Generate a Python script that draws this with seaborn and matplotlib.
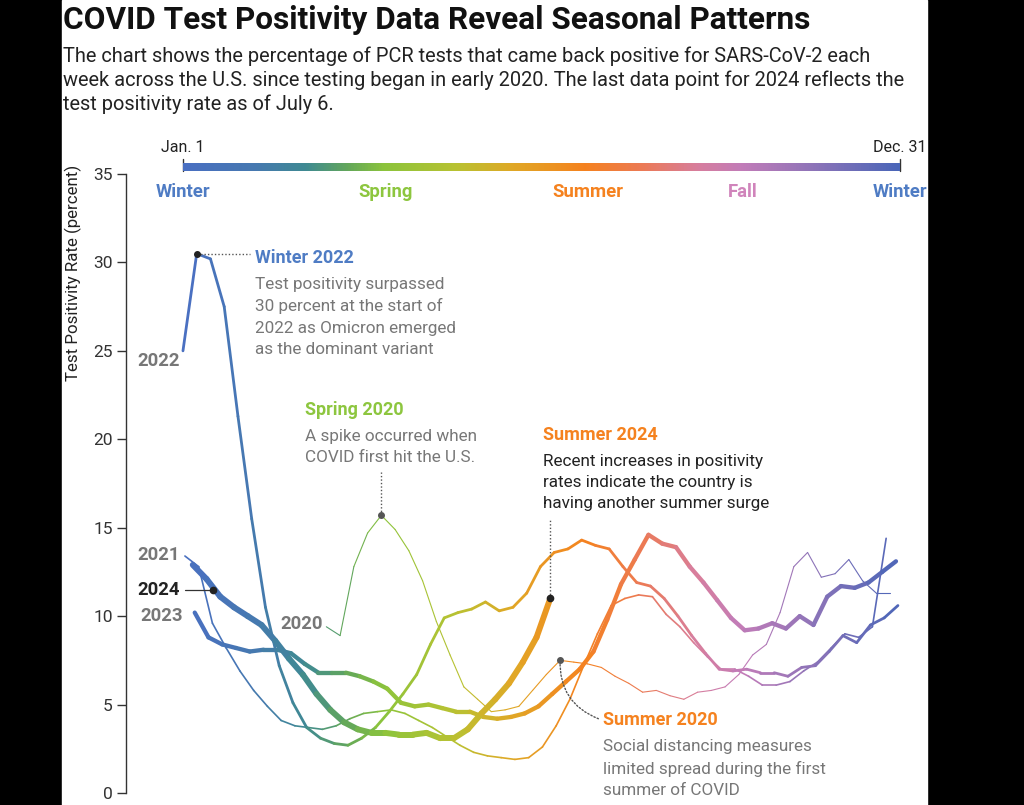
import numpy as np
import pandas as pd
import matplotlib.pyplot as plt
import seaborn as sns
from matplotlib.colors import LinearSegmentedColormap
from matplotlib.patches import Rectangle

# weekly PCR test positivity (percent), one value per week-ending Saturday
start_2020 = '2020-03-14'
pos_2020 = [9.4, 8.9, 12.8, 14.7, 15.7, 14.9, 13.7, 12.0, 9.7, 7.8, 6.0, 5.3, 4.6, 4.7,
            4.9, 5.8, 6.7, 7.5, 7.4, 7.3, 7.1, 6.6, 6.2, 5.7, 5.8, 5.5, 5.3, 5.7, 5.8,
            6.0, 6.7, 7.8, 8.4, 10.2, 12.8, 13.6, 12.2, 12.4, 13.2, 12.0, 11.3, 11.3]
start_2021 = '2021-01-02'
pos_2021 = [13.4, 12.8, 9.6, 8.2, 6.9, 5.8, 4.9, 4.1, 3.8, 3.7, 3.6, 3.8, 4.2, 4.5, 4.6,
            4.7, 4.5, 4.1, 3.7, 3.2, 2.7, 2.3, 2.1, 2.0, 1.9, 2.0, 2.6, 3.8, 5.3, 7.2,
            9.0, 10.6, 11.0, 11.2, 11.1, 10.1, 9.4, 8.5, 7.7, 7.0, 7.0, 6.6, 6.1, 6.1,
            6.3, 6.9, 7.4, 8.2, 9.0, 8.8, 9.4, 14.4]
start_2022 = '2022-01-01'
pos_2022 = [25.0, 30.5, 30.2, 27.5, 21.3, 15.5, 10.5, 7.2, 5.1, 3.7, 3.1, 2.8, 2.7, 3.1,
            3.7, 4.6, 5.6, 6.7, 8.4, 9.9, 10.2, 10.4, 10.8, 10.3, 10.5, 11.3, 12.8, 13.6,
            13.8, 14.3, 14.0, 13.8, 12.8, 11.9, 11.7, 11.0, 10.0, 8.9, 7.9, 7.0, 6.9,
            7.0, 6.8, 6.8, 6.6, 7.1, 7.2, 8.0, 8.9, 8.5, 9.5, 9.9, 10.6]
start_2023 = '2023-01-07'
pos_2023 = [10.2, 8.8, 8.4, 8.2, 8.0, 8.1, 8.1, 7.9, 7.3, 6.8, 6.8, 6.8, 6.6, 6.3, 5.9,
            5.1, 4.9, 5.0, 4.8, 4.6, 4.6, 4.3, 4.2, 4.3, 4.5, 4.9, 5.6, 6.3, 7.0, 8.0,
            9.8, 11.8, 13.2, 14.6, 14.1, 13.9, 12.8, 11.9, 10.9, 9.9, 9.2, 9.3, 9.6,
            9.3, 10.0, 9.5, 11.1, 11.7, 11.6, 11.9, 12.5, 13.1]
start_2024 = '2024-01-06'
pos_2024 = [12.9, 12.1, 11.1, 10.5, 10.0, 9.5, 8.6, 7.6, 6.7, 5.6, 4.7, 4.0, 3.6, 3.4,
            3.4, 3.3, 3.3, 3.4, 3.1, 3.1, 3.6, 4.5, 5.3, 6.2, 7.4, 8.8, 11.0]

years = [2020, 2021, 2022, 2023, 2024]
starts = [start_2020, start_2021, start_2022, start_2023, start_2024]
series = [pos_2020, pos_2021, pos_2022, pos_2023, pos_2024]
widths = [0.8, 1.2, 2.0, 3.1, 4.3]

season_names = ['Winter', 'Spring', 'Summer', 'Fall', 'Winter']
season_days = [0, 103, 206, 285, 365]
season_colors = ['#4f7cc4', '#8dc63f', '#f5821f', '#d084bb', '#4f7cc4']

season_cmap = LinearSegmentedColormap.from_list('season', [
    (0.00, '#4a6fc2'), (0.10, '#4679b0'), (0.17, '#3f8a92'), (0.23, '#64a85a'),
    (0.28, '#8cc43c'), (0.38, '#b8c232'), (0.46, '#e0a826'), (0.56, '#f5821f'),
    (0.64, '#ec7a55'), (0.72, '#d77e9e'), (0.78, '#c27cb8'), (0.88, '#8e74b8'),
    (1.00, '#4a66b8')])


def day_of_year(start, n):
    return pd.date_range(start, periods=n, freq='7D').dayofyear.values - 1


def segments(start, vals):
    doy = day_of_year(start, len(vals))
    rows = []
    for i in range(len(vals) - 1):
        mid = (doy[i] + doy[i + 1]) / 2
        rows.append((i, doy[i], vals[i], mid))
        rows.append((i, doy[i + 1], vals[i + 1], mid))
    return pd.DataFrame(rows, columns=['seg', 'doy', 'pos', 'mid'])


sns.set_theme(style='ticks')
plt.rcParams['font.family'] = ['Roboto', 'DejaVu Sans']

fig = plt.figure(figsize=(10.24, 8.05), dpi=100, facecolor='black')
fig.patches.append(Rectangle((62 / 1024, 0), (927 - 62) / 1024, 1,
                             transform=fig.transFigure, color='white', zorder=-10))
ax = fig.add_axes([126 / 1024, 12 / 805, (927 - 126) / 1024, (793 - 174) / 805])
ax.set_zorder(2)
ax.set_facecolor('none')

for yr, st, vals, lw in zip(years, starts, series, widths):
    sns.lineplot(data=segments(st, vals), x='doy', y='pos', units='seg', hue='mid',
                 palette=season_cmap, hue_norm=(0, 365), estimator=None, sort=False,
                 linewidth=lw, legend=False, ax=ax, solid_capstyle='round')

# season colour bar on top
ax.imshow(np.linspace(0, 1, 512)[None, :], extent=(0, 365, 35.17, 35.62), aspect='auto',
          cmap=season_cmap, clip_on=False, zorder=3)
for d, lab in [(0, 'Jan. 1'), (365, 'Dec. 31')]:
    ax.plot([d, d], [35.17, 35.85], color='#333333', lw=1, clip_on=False)
    ax.text(d, 36.07, lab, ha='center', va='bottom', fontsize=11.5, color='#222222')
for name, d, c in zip(season_names, season_days, season_colors):
    ax.text(d, 34.0, name, ha='center', va='center', fontsize=13.3, fontweight='bold',
            color=c)

ax.set_xlim(-29.0, 378.8)
ax.set_ylim(0, 35)
ax.set_yticks(range(0, 36, 5))
ax.set_xticks([])
ax.set_xlabel('')
ax.set_ylabel('')
for s in ['top', 'right', 'bottom']:
    ax.spines[s].set_visible(False)
ax.spines['left'].set_color('#333333')
ax.spines['left'].set_linewidth(1)
ax.tick_params(axis='y', length=6.5, width=1, color='#333333', labelsize=12.5,
               labelcolor='#333333', pad=3)
fig.text(73 / 1024, 1 - 165 / 805, 'Test Positivity Rate (percent)', rotation=90,
         ha='center', va='top', fontsize=12.2, color='#222222')

# year labels
gray = '#777777'
ylab = dict(ha='right', va='center', fontsize=13.3, fontweight='bold')
ax.text(-1.5, 24.4, '2022', color=gray, **ylab)
ax.text(-1.5, 13.46, '2021', color=gray, **ylab)
ax.text(-1.5, 11.48, '2024', color='#222222', **ylab)
ax.text(0, 10.0, '2023', color=gray, **ylab)
ax.text(71.3, 9.55, '2020', color=gray, **ylab)
ax.plot([1, 15.3], [11.5, 11.5], color='#333333', lw=0.9)
ax.plot([15.3], [11.5], 'o', color='#222222', ms=4.5, zorder=5)

# annotations
dot = dict(color='#555555', lw=1, ls=(0, (1, 1.5)))
body = dict(fontsize=12.3, color='#777777', ha='left', va='top', linespacing=1.52)
head = dict(fontsize=13, fontweight='bold', ha='left', va='center')

d22 = day_of_year(start_2022, 2)[1]
ax.plot([d22], [pos_2022[1]], 'o', color='#222222', ms=4, zorder=5)
ax.plot([d22, 34.2], [pos_2022[1], pos_2022[1]], **dot)
ax.text(36.7, 30.25, 'Winter 2022', color='#4f7cc4', **head)
ax.text(36.7, 29.2, 'Test positivity surpassed\n30 percent at the start of\n'
        '2022 as Omicron emerged\nas the dominant variant', **body)

d20 = day_of_year(start_2020, 5)[4]
ax.plot([d20], [pos_2020[4]], 'o', color='#555555', ms=4, zorder=5)
ax.plot([d20, d20], [pos_2020[4], 18.15], **dot)
ax.text(62.1, 21.66, 'Spring 2020', color='#8dc63f', **head)
ax.text(62.1, 20.57, 'A spike occurred when\nCOVID first hit the U.S.', **body)

d24 = day_of_year(start_2024, len(pos_2024))[-1]
ax.plot([d24], [pos_2024[-1]], 'o', color='#222222', ms=4.5, zorder=5)
ax.plot([d24, d24], [pos_2024[-1], 15.44], **dot)
ax.text(183.3, 20.24, 'Summer 2024', color='#f5821f', **head)
ax.text(183.3, 19.17, 'Recent increases in positivity\nrates indicate the country is\n'
        'having another summer surge', **dict(body, color='#222222'))

d20s = day_of_year(start_2020, 18)[17]
ax.plot([d20s], [pos_2020[17]], 'o', color='#555555', ms=4, zorder=5)
ax.annotate('', xy=(d20s, pos_2020[17]), xytext=(211.5, 4.2),
            arrowprops=dict(arrowstyle='-', color='#555555', lw=1, ls=(0, (1, 1.5)),
                            connectionstyle='arc3,rad=-0.35', shrinkA=0, shrinkB=0))
ax.text(213.8, 4.13, 'Summer 2020', color='#f5821f', **head)
ax.text(213.8, 3.07, 'Social distancing measures\nlimited spread during the first\n'
        'summer of COVID', **body)

# title and subtitle
fig.text(63 / 1024, 1 - 29 / 805, 'COVID Test Positivity Data Reveal Seasonal Patterns',
         fontsize=22.7, fontweight='bold', color='#111111', va='baseline')
fig.text(63 / 1024, 1 - 46 / 805,
         'The chart shows the percentage of PCR tests that came back positive for SARS-CoV-2 each\n'
         'week across the U.S. since testing began in early 2020. The last data point for 2024 reflects the\n'
         'test positivity rate as of July 6.',
         fontsize=14.4, color='#222222', va='top', linespacing=1.32)

fig.savefig('out.png', dpi=100, facecolor='black')
